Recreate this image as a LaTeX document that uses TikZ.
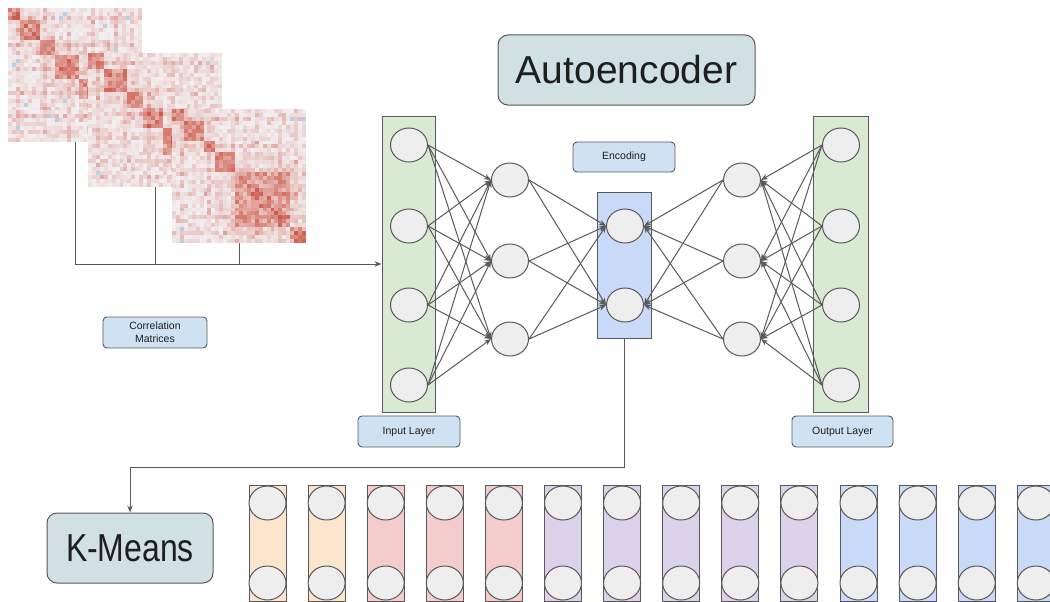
\documentclass[tikz,border=0pt]{standalone}
\usepackage{fontspec}
\setmainfont{Liberation Sans}
\usetikzlibrary{arrows.meta,shapes.geometric,calc}

\definecolor{edgegray}{HTML}{595959}
\definecolor{neuron}{HTML}{EEEEEE}
\definecolor{layergreen}{HTML}{D9EAD3}
\definecolor{codeblue}{HTML}{C9DAF8}
\definecolor{tagblue}{HTML}{CFE2F3}
\definecolor{titlegray}{HTML}{D0E0E3}
\definecolor{clorange}{HTML}{FCE5CD}
\definecolor{clred}{HTML}{F4CCCC}
\definecolor{clpurple}{HTML}{D9D2E9}
\definecolor{clblue}{HTML}{C9DAF8}
\definecolor{hmbase}{HTML}{F2EEEF}
\definecolor{hmred}{HTML}{C8402E}
\definecolor{hmblue}{HTML}{7FB0DA}
\definecolor{txt}{HTML}{1E1E1E}

% block structure of each correlation matrix (34 variables)
\def\blocksA{{0,0,0,1,1,1,1,1,2,2,2,2,3,3,3,3,3,3,4,4,4,4,4,5,5,5,5,5,5,6,6,6,6,6}}
\def\blocksB{{0,0,0,0,1,1,1,1,1,1,2,2,2,2,3,3,3,3,3,4,4,4,4,4,4,4,5,5,5,5,6,6,6,6}}
\def\blocksC{{0,0,0,1,1,1,1,1,2,2,2,3,3,3,3,3,4,4,4,4,4,4,4,4,4,4,4,4,4,4,5,5,5,5}}
\def\hubs{{0,0,1,0,0,0,0,0,0,1,0,0,0,0,0,1,0,0,0,0,0,1,0,0,0,0,0,1,0,0,0,1,0,0}}
\def\cs{3.94}

% symmetric heatmap: #1 left, #2 top, #3 seed, #4 block array
\newcommand\heatmap[4]{%
  \pgfmathsetseed{#3}%
  \foreach \i in {0,...,33}{%
    \foreach \j in {\i,...,33}{%
      \pgfmathtruncatemacro\bi{#4[\i]}%
      \pgfmathtruncatemacro\bj{#4[\j]}%
      \pgfmathtruncatemacro\hh{\hubs[\i]+\hubs[\j]}%
      \pgfmathtruncatemacro\v{min(85, 32*rnd*rnd + (\bi==\bj ? 20+42*rnd : 0) + (abs(\bi-\bj)==1 ? 10*rnd : 0) + (\i==\j ? 14 : 0) + (\hh>0 ? 22*rnd : 0))}%
      \pgfmathtruncatemacro\isblue{((rnd<0.006) || (\i==2 && \j==30)) ? 1 : 0}%
      \ifnum\isblue=1 \colorlet{cell}{hmblue!50!hmbase}\else\colorlet{cell}{hmred!\v!hmbase}\fi
      \fill[cell] (#1+\j*\cs, #2+\i*\cs) rectangle ++(\cs+0.3,\cs+0.3);
      \fill[cell] (#1+\i*\cs, #2+\j*\cs) rectangle ++(\cs+0.3,\cs+0.3);
    }%
  }%
}

\tikzset{
  neuron/.style={ellipse, draw=edgegray, fill=neuron, line width=1pt,
    minimum width=37pt, minimum height=34pt, inner sep=0pt},
  layerbox/.style={rectangle, draw=edgegray, line width=1pt, inner sep=0pt},
  tag/.style={rectangle, rounded corners=4pt, draw=edgegray, fill=tagblue,
    line width=0.9pt, inner sep=0pt, text=txt, align=center,
    font=\fontsize{10.5}{13}\selectfont},
  title/.style={rectangle, rounded corners=10pt, draw=edgegray, fill=titlegray,
    line width=1pt, inner sep=0pt, text=txt, font=\fontsize{39}{44}\selectfont},
  wire/.style={draw=edgegray, line width=1pt},
  conn/.style={wire, -{Stealth[length=7pt,width=5.5pt]}},
  hm/.style={rectangle, minimum width=134pt, minimum height=134pt, inner sep=0pt},
}

\begin{document}
\begin{tikzpicture}[x=1pt,y=-1pt]
\useasboundingbox (0,0) rectangle (1050,602);

% correlation matrices
\heatmap{8}{8}{11}{\blocksA}
\node[hm] (m1) at (75,75) {};
\heatmap{88}{53}{23}{\blocksB}
\node[hm] (m2) at (155,120) {};
\heatmap{172}{109}{37}{\blocksC}
\node[hm] (m3) at (239,176) {};

% titles and tags
\node[title, minimum width=257pt, minimum height=70pt] (ae) at (626.5,70) {Autoencoder};
\node[title, minimum width=166pt, minimum height=70pt] (km) at (130,548) {\scalebox{0.82}[1]{K-Means}};
\node[tag, minimum width=102pt, minimum height=30pt] (enctag) at (624,157) {Encoding};
\node[tag, minimum width=102pt, minimum height=31pt] (intag) at (409,431.5) {Input Layer};
\node[tag, minimum width=101pt, minimum height=31pt] (outtag) at (842.5,431.5) {Output Layer};
\node[tag, minimum width=104pt, minimum height=31pt] (cmtag) at (155,332.5) {Correlation\\Matrices};

% layer frames
\node[layerbox, fill=layergreen, minimum width=53pt, minimum height=296pt] (inl) at (408.5,264) {};
\node[layerbox, fill=codeblue, minimum width=54pt, minimum height=146pt] (enc) at (624,265) {};
\node[layerbox, fill=layergreen, minimum width=55pt, minimum height=296pt] (outl) at (840.5,264) {};

% neurons
\foreach \y [count=\k] in {145,226,305,385}{
  \node[neuron] (in\k) at (409,\y) {};
  \node[neuron] (out\k) at (841,\y) {};
}
\foreach \y [count=\k] in {180,261,339}{
  \node[neuron] (ha\k) at (510,\y) {};
  \node[neuron] (hb\k) at (742,\y) {};
}
\foreach \y [count=\k] in {226,305}{
  \node[neuron] (enc\k) at (625,\y) {};
}

% weights
\foreach \a in {1,...,4}{\foreach \b in {1,2,3}{
  \draw[conn] (in\a.east) -- (ha\b.west);
  \draw[conn] (out\a.west) -- (hb\b.east);
}}
\foreach \a in {1,2,3}{\foreach \b in {1,2}{
  \draw[conn] (ha\a.east) -- (enc\b.west);
  \draw[conn] (hb\a.west) -- (enc\b.east);
}}

% matrices feed the input layer
\draw[conn] (m1.south) |- (inl.west);
\draw[wire] (m2.south) -- (m2.south |- inl.west);
\draw[wire] (m3.south) -- (m3.south |- inl.west);

% encoding goes to clustering
\coordinate (drop) at ($(enc.south)+(0,129)$);
\draw[conn] (enc.south) -- (drop) -| (km.north);

% clustered codes
\foreach \col [count=\k from 0] in {clorange,clorange,clred,clred,clred,clpurple,clpurple,clpurple,clpurple,clpurple,clblue,clblue,clblue,clblue}{
  \pgfmathsetmacro\cx{267.5+\k*59.1}
  \node[layerbox, fill=\col, minimum width=37pt, minimum height=116pt] (col\k) at (\cx,543) {};
  \node[neuron] (colt\k) at (\cx,503) {};
  \node[neuron] (colb\k) at (\cx,583) {};
}
\end{tikzpicture}
\end{document}
